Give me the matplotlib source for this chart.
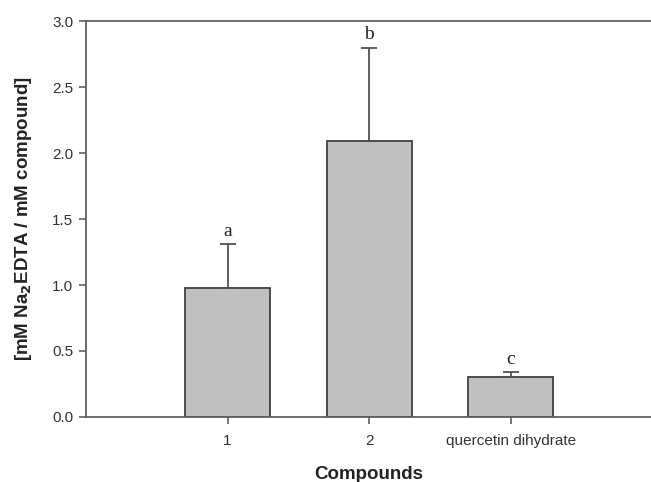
import matplotlib.pyplot as plt

# data
compounds = ['1', '2', 'quercetin dihydrate']
values = [0.98, 2.09, 0.30]
errors = [0.33, 0.71, 0.04]
letters = ['a', 'b', 'c']

fig = plt.figure(figsize=(6.51, 4.82), dpi=100)
ax = fig.add_axes([0.132, 0.135, 0.868, 0.821])

x = [1, 2, 3]
ax.bar(x, values, width=0.6, color='#c0c0c0', edgecolor='#404040', linewidth=1.3, zorder=2)
ax.errorbar(x, values, yerr=[[0, 0, 0], errors], fmt='none', ecolor='#505050',
            elinewidth=1.3, capsize=6, capthick=1.3, zorder=3)

for xi, v, e, l in zip(x, values, errors, letters):
    ax.annotate(l, (xi, v + e), xytext=(0, 3), textcoords='offset points',
                ha='center', va='bottom', fontsize=14, family='Liberation Serif', color='#222222')

ax.set_xlim(0, 3.99)
ax.set_ylim(0, 3.0)
ax.set_xticks(x)
ax.set_xticklabels(compounds)
ax.set_yticks([0, 0.5, 1.0, 1.5, 2.0, 2.5, 3.0])
ax.set_yticklabels(['0.0', '0.5', '1.0', '1.5', '2.0', '2.5', '3.0'])

for s in ['top', 'bottom', 'left']:
    ax.spines[s].set_color('#606060')
    ax.spines[s].set_linewidth(1.3)
ax.spines['right'].set_visible(False)

ax.tick_params(axis='y', length=5, width=1.2, color='#606060', labelsize=11,
               labelcolor='#333333', pad=4)
ax.tick_params(axis='x', length=5, width=1.2, color='#606060', labelsize=11,
               labelcolor='#333333', pad=7)
for t in ax.get_xticklabels() + ax.get_yticklabels():
    t.set_family('Liberation Sans')

ax.set_xlabel('Compounds', fontsize=13.5, fontweight='bold', family='Liberation Sans',
              color='#222222', labelpad=13)
ax.set_ylabel('[mM Na$_\\mathbf{2}$EDTA / mM compound]', fontsize=13.5, fontweight='bold',
              family='Liberation Sans', color='#222222', labelpad=13)

fig.savefig('out.png', dpi=100)
